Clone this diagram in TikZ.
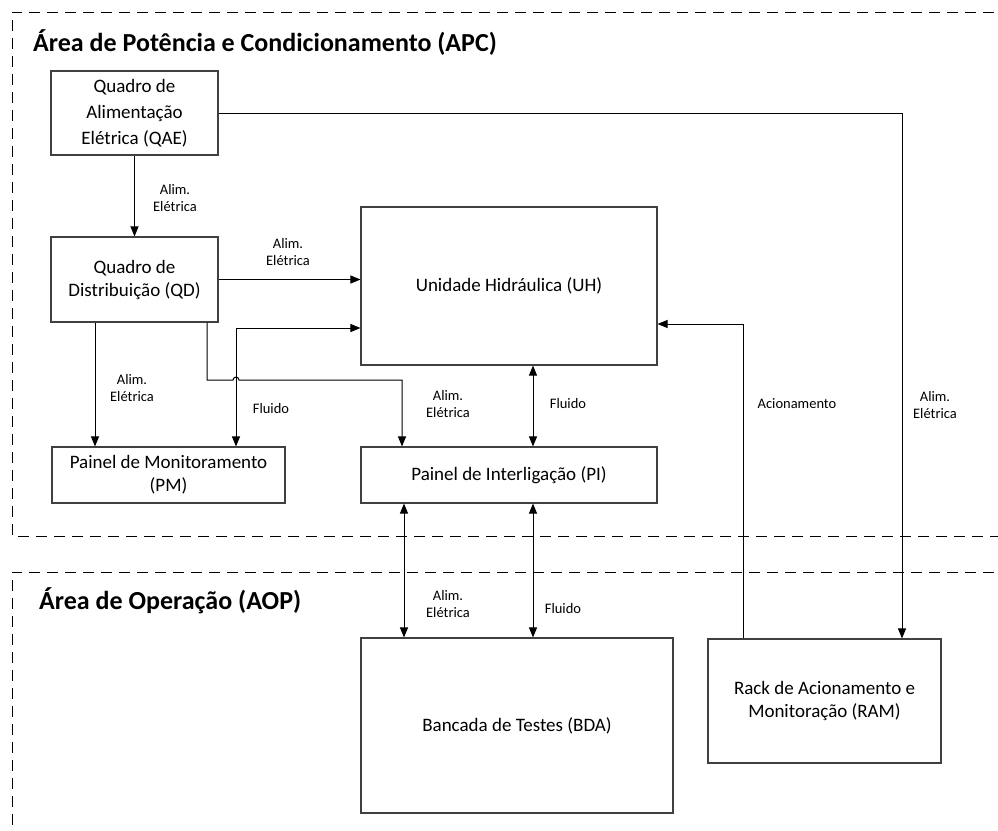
\documentclass[tikz,border=0pt]{standalone}
\usepackage{fontspec}
\setmainfont{Carlito}
\usetikzlibrary{arrows.meta}
\tikzset{
  box/.style={draw=black!75, line width=1.1pt, fill=white, inner sep=2pt, align=center,
    font=\fontsize{19}{23}\selectfont},
  conn/.style={draw=black, line width=1pt},
  arr/.style={conn, -{Triangle[length=10pt,width=8pt]}},
  darr/.style={conn, {Triangle[length=10pt,width=8pt]}-{Triangle[length=10pt,width=8pt]}},
  lbl/.style={align=center, inner sep=0pt, font=\fontsize{14.5}{17}\selectfont},
  area/.style={draw=black, line width=1pt, dash pattern=on 11pt off 7pt},
  areatitle/.style={anchor=west, inner sep=0pt, font=\fontsize{26}{30}\selectfont\bfseries}
}
\begin{document}
\begin{tikzpicture}[x=1pt,y=-1pt]
\useasboundingbox (0,0) rectangle (998,830);
\clip (0,0) rectangle (998,830);
\fill[white] (0,0) rectangle (998,830);
% areas
\draw[area] (1012,12) -- (12,12) -- (12,536) -- (1012,536);
\draw[area] (1012,572) -- (12,572) -- (12,850);
\node[areatitle] (tapc) at (33,43) {Área de Potência e Condicionamento (APC)};
\node[areatitle] (taop) at (39,601) {Área de Operação (AOP)};
% boxes
\node[box, minimum width=167pt, minimum height=84pt, font=\fontsize{19}{26}\selectfont] (qae) at (134.5,113) {Quadro de\\Alimentação\\Elétrica (QAE)};
\node[box, minimum width=167pt, minimum height=85pt] (qd) at (134.5,279.5) {Quadro de\\Distribuição (QD)};
\node[box, minimum width=296pt, minimum height=158pt] (uh) at (509,286) {Unidade Hidráulica (UH)};
\node[box, minimum width=233pt, minimum height=56pt] (pm) at (168.5,475) {Painel de Monitoramento\\(PM)};
\node[box, minimum width=296pt, minimum height=56pt] (pi) at (509,475) {Painel de Interligação (PI)};
\node[box, minimum width=312pt, minimum height=175pt] (bda) at (517,725.5) {Bancada de Testes (BDA)};
\node[box, minimum width=233pt, minimum height=124pt] (ram) at (824.5,701) {Rack de Acionamento e\\Monitoração (RAM)};
% connectors
\draw[arr] (qae.south) -- (qd.north);
\coordinate (c1) at (902,113);
\draw[arr] (qae.east) -- (c1) -- (c1 |- ram.north);
\draw[arr] (qd.east) -- (qd.east -| uh.west);
\coordinate (c2) at (95,400);
\draw[arr] (c2 |- qd.south) -- (c2 |- pm.north);
\coordinate (f1) at (236,328);
\draw[darr] (f1 -| uh.west) -- (f1) -- (f1 |- pm.north);
\coordinate (h1) at (207,380);
\coordinate (h2) at (233,380);
\coordinate (h3) at (402,380);
\draw[arr] (h1 |- qd.south) -- (h1) -- (h2) arc[start angle=180, end angle=0, radius=3pt] -- (h3) -- (h3 |- pi.north);
\coordinate (c3) at (533,400);
\draw[darr] (c3 |- uh.south) -- (c3 |- pi.north);
\coordinate (c4) at (404,570);
\draw[darr] (c4 |- pi.south) -- (c4 |- bda.north);
\coordinate (c5) at (533,570);
\draw[darr] (c5 |- pi.south) -- (c5 |- bda.north);
\coordinate (a1) at (743,324);
\draw[arr] (a1 |- ram.north) -- (a1) -- (a1 -| uh.east);
% labels
\node[lbl] (l1) at (175,198) {Alim.\\Elétrica};
\node[lbl] (l2) at (288,252) {Alim.\\Elétrica};
\node[lbl] (l3) at (132,388) {Alim.\\Elétrica};
\node[lbl] (l4) at (271,409) {Fluido};
\node[lbl] (l5) at (448,404) {Alim.\\Elétrica};
\node[lbl] (l6) at (568,404) {Fluido};
\node[lbl] (l7) at (448,604) {Alim.\\Elétrica};
\node[lbl] (l8) at (563,609) {Fluido};
\node[lbl] (l9) at (797,404) {Acionamento};
\node[lbl] (l10) at (935,405) {Alim.\\Elétrica};
\end{tikzpicture}
\end{document}
